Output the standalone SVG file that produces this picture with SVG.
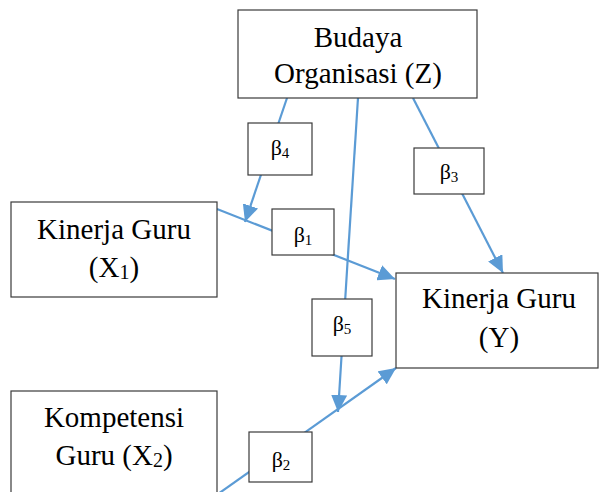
<svg xmlns="http://www.w3.org/2000/svg" width="600" height="492" viewBox="0 0 600 492">
<style>
.box{fill:#fff;stroke:#3a3a3a;stroke-width:1.2}
.t{font-family:"Liberation Serif","Times New Roman",serif;font-size:29px;fill:#000;text-anchor:middle}
.b{font-family:"Liberation Serif","DejaVu Serif",serif;font-size:22px;fill:#000;text-anchor:middle}
.bs{font-size:15px}
.ts{font-size:20px}
.c{fill:none;stroke:#5B9BD5;stroke-width:2.2}
</style>
<defs>
<marker id="ahl" markerWidth="18" markerHeight="16" refX="17" refY="8" orient="auto" markerUnits="userSpaceOnUse">
<path d="M0,0 L17,8 L0,16 z" fill="#5B9BD5"/>
</marker>
</defs>
<g id="connectors">
<line class="c" x1="287" y1="98" x2="245" y2="222" marker-end="url(#ahl)"/>
<line class="c" x1="217" y1="209" x2="395" y2="279" marker-end="url(#ahl)"/>
<line class="c" x1="413" y1="98" x2="503" y2="273" marker-end="url(#ahl)"/>
<line class="c" x1="358" y1="98" x2="338" y2="412" marker-end="url(#ahl)"/>
<line class="c" x1="218" y1="494" x2="396" y2="368" marker-end="url(#ahl)"/>
</g>
<g id="budaya">
<rect class="box" x="238" y="10" width="239" height="88"/>
<text class="t" x="358" y="47">Budaya</text>
<text class="t" x="358" y="83">Organisasi (Z)</text>
</g>
<g id="x1">
<rect class="box" x="11" y="202" width="206" height="95"/>
<text class="t" x="114" y="239">Kinerja Guru</text>
<text class="t" x="114" y="277">(X<tspan class="ts" dy="2">1</tspan><tspan dy="-2">)</tspan></text>
</g>
<g id="x2">
<rect class="box" x="11" y="391" width="206" height="110"/>
<text class="t" x="114" y="427">Kompetensi</text>
<text class="t" x="114" y="465">Guru (X<tspan class="ts" dy="2">2</tspan><tspan dy="-2">)</tspan></text>
</g>
<g id="y">
<rect class="box" x="396" y="273" width="202" height="95"/>
<text class="t" x="499" y="308">Kinerja Guru</text>
<text class="t" x="499" y="347">(Y)</text>
</g>
<g id="b4">
<rect class="box" x="248" y="123" width="64" height="52"/>
<text class="b" x="280" y="155">β<tspan class="bs" dy="3">4</tspan></text>
</g>
<g id="b1">
<rect class="box" x="272" y="209" width="62" height="46"/>
<text class="b" x="303" y="242">β<tspan class="bs" dy="3">1</tspan></text>
</g>
<g id="b3">
<rect class="box" x="414" y="148" width="70" height="46"/>
<text class="b" x="449" y="179">β<tspan class="bs" dy="3">3</tspan></text>
</g>
<g id="b5">
<rect class="box" x="312" y="299" width="60" height="57"/>
<text class="b" x="342" y="331">β<tspan class="bs" dy="3">5</tspan></text>
</g>
<g id="b2">
<rect class="box" x="249" y="432" width="63" height="50"/>
<text class="b" x="281" y="467">β<tspan class="bs" dy="3">2</tspan></text>
</g>
</svg>
